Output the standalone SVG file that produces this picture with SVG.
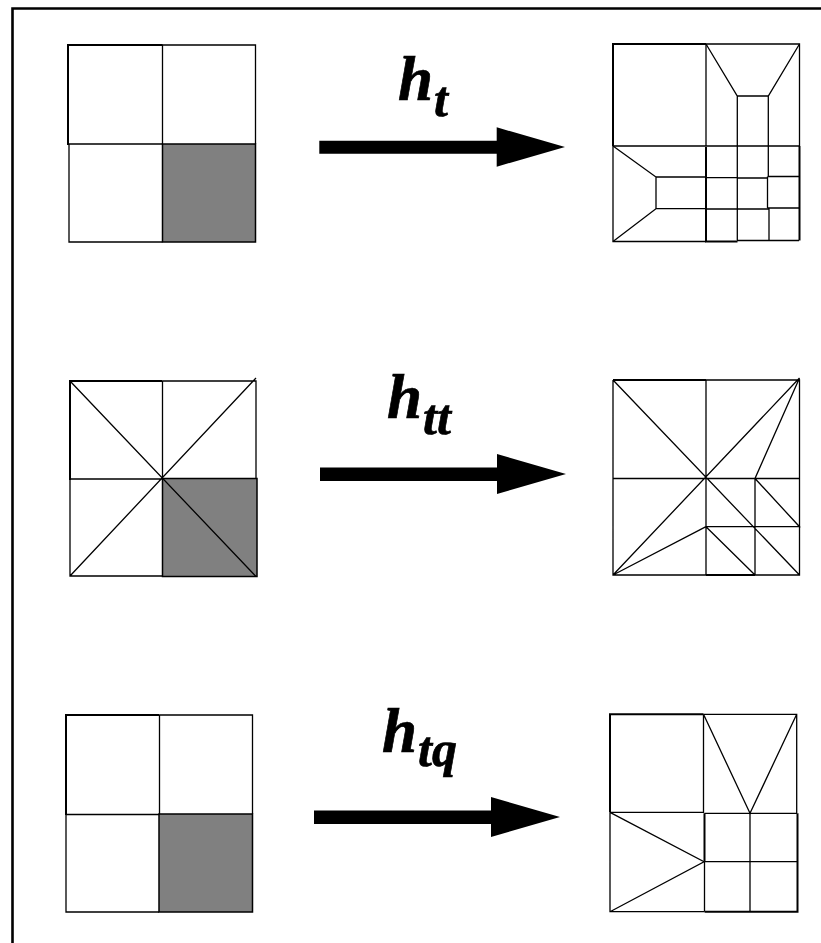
<svg xmlns="http://www.w3.org/2000/svg" width="821" height="943" viewBox="0 0 821 943">
<style>
.l{fill:none;stroke:#000;stroke-width:1.3}
.t{fill:none;stroke:#000;stroke-width:2}
.g{fill:#808080;stroke:#000;stroke-width:1.5}
.a{fill:#000;stroke:none}
.h{font-family:"Liberation Serif","Times New Roman",serif;font-weight:bold;font-style:italic;fill:#000;stroke:#000;stroke-width:.7}
</style>
<rect width="821" height="943" fill="#fff"/>
<path id="frame" d="M12.5 943V8.5H821" fill="none" stroke="#000" stroke-width="2.6"/>
<g id="n1-left">
<rect class="g" x="162.5" y="144" width="93" height="98"/>
<path class="l" d="M68.5 45H255.5V144M69 144V242H162.5M162.5 45V144M68 144H162.5"/>
<path class="t" d="M68 145V45H162.5"/>
</g>
<g id="n1-right">
<path class="l" d="M706 44H799.5V146M613 146V241.5H706M706 44V146M613 146H799.5"/>
<path class="t" d="M613 146V44H706"/>
<path class="l" d="M706 44L737.3 96H768.3L799.5 44M737.3 96V146M768.3 96V146M613 146L656 177V208.7L613 241.5M656 177H706M656 208.7H706"/>
<path class="l" d="M706 177.7H737M706 209H737M737 178H768M737 209H769M768 176.5H799.5M767.5 208H799.5M737.3 146V240.5M768.3 146V176.5M767.5 176.5V208M769 208V240.5M737 240.5H799"/>
<path class="t" d="M706 147V241.5H737.5M799.5 146V240.5"/>
</g>
<g id="n2-left">
<rect class="g" x="162.5" y="478.5" width="94.5" height="98"/>
<path class="l" d="M162.5 381H256V478.5M70 479V576H162.5M162.5 381V478.5M70 479H162.5M70 381L256 576.5M256 378L70 576"/>
<path class="t" d="M70 480V381H162.5"/>
</g>
<g id="n2-right">
<path class="l" d="M706 380H799.5V575H613V380M706 380V575M613 478.5H799.5M613 380L799.5 575M799.5 378L613 575M799.5 378L755 478.5V575M755 478.5L799.5 526.7H706M706 526.7L755 575M613 575L706 526.7"/>
<path class="t" d="M613 380H706M706 575H755"/>
</g>
<g id="n3-left">
<rect class="g" x="159" y="814" width="93.5" height="98"/>
<path class="l" d="M159.5 715H252.5V814M66 815V912H159M159.5 715V814M66 814.5H159"/>
<path class="t" d="M66 815V715H159.5"/>
</g>
<g id="n3-right">
<path class="l" d="M703.5 714.3H796.7V813M610 812.3V911.7H704M703.5 714.3V813M610 812.3H703.5M703.5 714.3L750 813.3L796.7 714.3M610 812.3L704 861.7L610 911.7"/>
<path class="t" d="M610 812.3V714.3H703.5"/>
<path class="l" d="M704.5 813.3H797M704.5 861.7H797M750 813.3V911.7M704.5 861.7V911.7"/>
<path class="t" d="M704.5 813.3V861.7M704.5 911.7H797.5V813.3"/>
</g>
<g id="connectors">
<path class="a" d="M319.3 140.7H496.7V127.3L565 147L496.7 166.7V153.7H319.3Z"/>
<path class="a" d="M320 467.5H497V454L566 474L497 494V481H320Z"/>
<path class="a" d="M314 810.5H491V797L560 817L491 837V824H314Z"/>
</g>
<g id="labels">
<text class="h" x="398" y="100" font-size="63">h</text><text class="h" x="434" y="116" font-size="50">t</text>
<text class="h" x="387" y="418" font-size="63">h</text><text class="h" x="423" y="434" font-size="50">tt</text>
<text class="h" x="382" y="752" font-size="63">h</text><text class="h" x="418" y="766" font-size="50">tq</text>
</g>
</svg>
